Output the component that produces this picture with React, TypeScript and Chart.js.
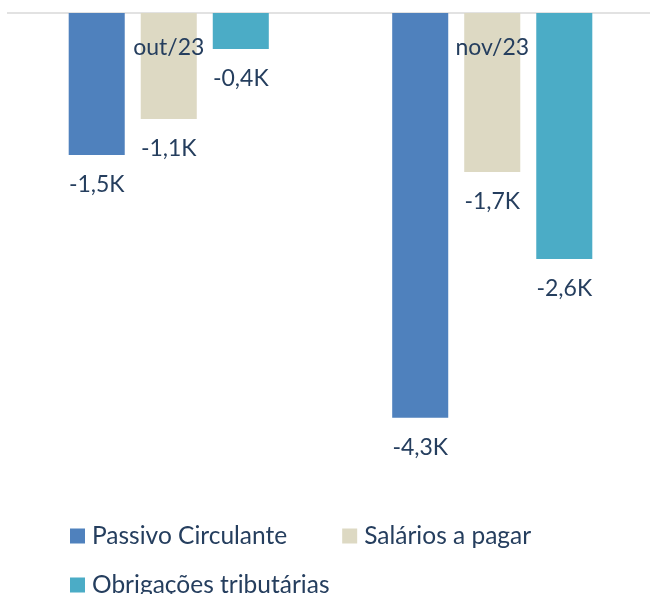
import React, { useEffect, useRef } from "react";
import { Chart, registerables } from "chart.js";

Chart.register(...registerables);

const categories = ["out/23", "nov/23"];
const seriesNames = ["Passivo Circulante", "Salários a pagar", "Obrigações tributárias"];
const passivoCirculante = [-1506, -4292];
const salariosAPagar = [-1124, -1686];
const obrigacoesTributarias = [-382, -2609];
const seriesColors = ["#4F81BD", "#DDD9C3", "#4BACC6"];
const yMin = -5000;
const yMax = 0;

const FONT = "Lato";
const TEXT_COLOR = "#253E5E";
const FONT_SIZE = 23;
const LEGEND_FONT_SIZE = 24.5;

const fmtK = (v: number) => (v / 1000).toFixed(1).replace(".", ",") + "K";

const annotate = {
  id: "annotate",
  beforeDatasetsDraw(chart: any) {
    const { ctx, chartArea, scales } = chart;
    const y0 = scales.y.getPixelForValue(0);
    ctx.save();
    ctx.strokeStyle = "#D9D9D9";
    ctx.lineWidth = 1.5;
    ctx.beginPath();
    ctx.moveTo(chartArea.left, y0);
    ctx.lineTo(chartArea.right, y0);
    ctx.stroke();
    ctx.restore();
  },
  afterDatasetsDraw(chart: any) {
    const { ctx, scales } = chart;
    const y0 = scales.y.getPixelForValue(0);
    ctx.save();
    ctx.font = `${FONT_SIZE}px ${FONT}`;
    ctx.fillStyle = TEXT_COLOR;
    ctx.textAlign = "center";
    ctx.textBaseline = "middle";
    chart.data.labels.forEach((lab: string, i: number) => {
      ctx.fillText(lab, scales.x.getPixelForValue(i), y0 + 35);
    });
    chart.data.datasets.forEach((ds: any, di: number) => {
      const meta = chart.getDatasetMeta(di);
      meta.data.forEach((bar: any, i: number) => {
        ctx.fillText(fmtK(ds.data[i]), bar.x, bar.y + 30);
      });
    });
    ctx.restore();
  },
  afterDraw(chart: any) {
    const { ctx } = chart;
    ctx.save();
    ctx.font = `${LEGEND_FONT_SIZE}px ${FONT}`;
    ctx.textBaseline = "middle";
    ctx.textAlign = "left";
    const startX = 70;
    const rowY = [536, 585];
    const box = 15;
    const textGap = 22;
    const itemGap = 55;
    let x = startX;
    let row = 0;
    chart.data.datasets.forEach((ds: any) => {
      const w = textGap + ctx.measureText(ds.label).width;
      if (x > startX && x + w > 650) {
        row += 1;
        x = startX;
      }
      const y = rowY[row] ?? rowY[rowY.length - 1] + 49 * (row - rowY.length + 1);
      ctx.fillStyle = ds.backgroundColor;
      ctx.fillRect(x, y - box / 2, box, box);
      ctx.fillStyle = TEXT_COLOR;
      ctx.fillText(ds.label, x + textGap, y);
      x += w + itemGap;
    });
    ctx.restore();
  },
};

export default function App() {
  const ref = useRef<HTMLCanvasElement>(null);
  useEffect(() => {
    if (!ref.current) return;
    const chart = new Chart(ref.current, {
      type: "bar",
      data: {
        labels: categories,
        datasets: [
          { label: seriesNames[0], data: passivoCirculante, backgroundColor: seriesColors[0] },
          { label: seriesNames[1], data: salariosAPagar, backgroundColor: seriesColors[1] },
          { label: seriesNames[2], data: obrigacoesTributarias, backgroundColor: seriesColors[2] },
        ],
      },
      options: {
        animation: false,
        responsive: false,
        devicePixelRatio: 1,
        layout: { padding: { left: 7, right: 0, top: 13, bottom: 109.5 } },
        categoryPercentage: 0.668,
        barPercentage: 0.778,
        scales: {
          x: { display: false },
          y: { display: false, min: yMin, max: yMax },
        },
        plugins: {
          legend: { display: false },
          tooltip: { enabled: false },
        },
      } as any,
      plugins: [annotate],
    });
    return () => chart.destroy();
  }, []);
  return (
    <div style={{ position: "absolute", left: 0, top: 0, width: 650, height: 594, overflow: "hidden", background: "#fff" }}>
      <canvas ref={ref} width={654} height={594} style={{ display: "block" }} />
    </div>
  );
}
